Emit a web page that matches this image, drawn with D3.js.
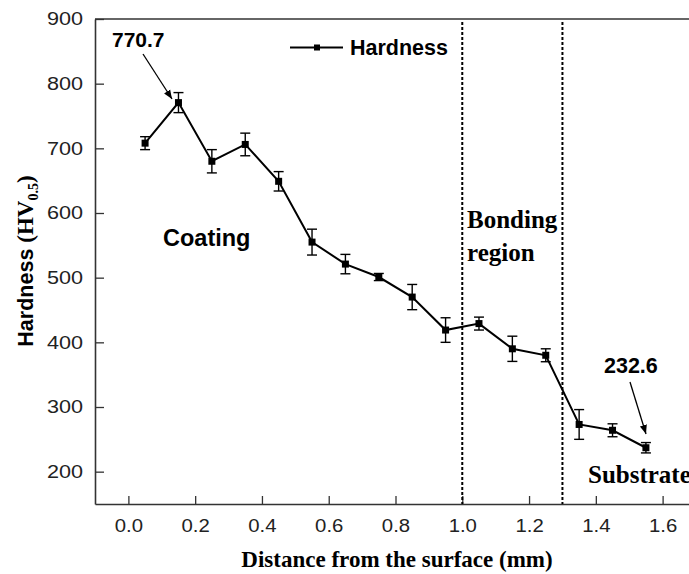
<!DOCTYPE html>
<html>
<head>
<meta charset="utf-8">
<script src="https://cdn.jsdelivr.net/npm/d3@7"></script>
<style>
  body { margin: 0; background: #fff; }
  svg { display: block; }
</style>
</head>
<body>
<div id="chart"></div>
<script>
// data
var depth = [0.05, 0.15, 0.25, 0.35, 0.45, 0.55, 0.65, 0.75, 0.85, 0.95, 1.05, 1.15, 1.25, 1.35, 1.45, 1.55];
var hardness = [708, 770.7, 680, 706, 649, 555, 521, 501, 470, 419, 429, 390, 380, 273, 264, 237];
var errors = [10, 15.5, 18, 17.5, 15, 20, 15, 5.5, 19.5, 19, 10, 19.5, 10, 23, 10, 8];
var xTicks = [0, 0.2, 0.4, 0.6, 0.8, 1.0, 1.2, 1.4, 1.6];
var yTicks = [200, 300, 400, 500, 600, 700, 800, 900];
var regionBounds = [1.0, 1.3];

var W = 689, H = 574;
var plotLeft = 95, plotTop = 19, plotBottom = 504;

var svg = d3.select("#chart").append("svg")
  .attr("width", W)
  .attr("height", H);

var x = d3.scaleLinear().domain([-0.1, 1.7]).range([plotLeft, 696]);
var y = d3.scaleLinear().domain([150, 900]).range([plotBottom, plotTop]);

var sans = "'Liberation Sans', Arial, sans-serif";
var serif = "'Liberation Serif', 'Times New Roman', serif";
var axisColor = "#333";

// arrow head
svg.append("defs").append("marker")
  .attr("id", "arrow")
  .attr("viewBox", "0 0 10 10")
  .attr("refX", 10).attr("refY", 5)
  .attr("markerWidth", 9).attr("markerHeight", 9)
  .attr("markerUnits", "userSpaceOnUse")
  .attr("orient", "auto")
  .append("path")
  .attr("d", "M0,1 L10,5 L0,9 Z")
  .attr("fill", "#000");

// stretch tick labels a bit, the source font is wider than Arial
function widen(sel, k) {
  sel.selectAll("text").each(function() {
    var w = this.getComputedTextLength();
    d3.select(this).attr("textLength", w * k).attr("lengthAdjust", "spacingAndGlyphs");
  });
}

// y axis
var gy = svg.append("g")
  .attr("transform", "translate(" + plotLeft + ",0)")
  .call(d3.axisLeft(y).tickValues(yTicks).tickSizeInner(-9).tickSizeOuter(0).tickPadding(12));
gy.select(".domain").attr("stroke", axisColor).attr("stroke-width", 1.6);
gy.selectAll(".tick line").attr("stroke", axisColor).attr("stroke-width", 1.3);
gy.selectAll("text").attr("font-family", sans).attr("font-size", 18).attr("fill", "#222");
widen(gy, 1.2);

// x axis
var gx = svg.append("g")
  .attr("transform", "translate(0," + plotBottom + ")")
  .call(d3.axisBottom(x).tickValues(xTicks).tickFormat(d3.format(".1f")).tickSizeInner(-8).tickSizeOuter(0).tickPadding(15));
gx.select(".domain").attr("stroke", axisColor).attr("stroke-width", 1.6);
gx.selectAll(".tick line").attr("stroke", axisColor).attr("stroke-width", 1.3);
gx.selectAll("text").attr("font-family", sans).attr("font-size", 18).attr("fill", "#222");
widen(gx, 1.13);

// top frame line
svg.append("line")
  .attr("x1", plotLeft).attr("x2", x(1.7))
  .attr("y1", plotTop).attr("y2", plotTop)
  .attr("stroke", axisColor).attr("stroke-width", 1.6);

// region boundaries
svg.selectAll("line.bound")
  .data(regionBounds)
  .enter().append("line")
  .attr("class", "bound")
  .attr("x1", d => x(d)).attr("x2", d => x(d))
  .attr("y1", plotTop + 3).attr("y2", plotBottom)
  .attr("stroke", "#000")
  .attr("stroke-width", 2)
  .attr("stroke-dasharray", "3,2");

// error bars
var pts = depth.map((d, i) => ({x: d, y: hardness[i], e: errors[i]}));

var eb = svg.append("g").selectAll("g")
  .data(pts)
  .enter().append("g")
  .attr("stroke", "#000")
  .attr("stroke-width", 1.4);
eb.append("line")
  .attr("x1", d => x(d.x)).attr("x2", d => x(d.x))
  .attr("y1", d => y(d.y - d.e)).attr("y2", d => y(d.y + d.e));
eb.append("line")
  .attr("x1", d => x(d.x) - 5).attr("x2", d => x(d.x) + 5)
  .attr("y1", d => y(d.y + d.e)).attr("y2", d => y(d.y + d.e));
eb.append("line")
  .attr("x1", d => x(d.x) - 5).attr("x2", d => x(d.x) + 5)
  .attr("y1", d => y(d.y - d.e)).attr("y2", d => y(d.y - d.e));

// line
svg.append("path")
  .datum(pts)
  .attr("fill", "none")
  .attr("stroke", "#000")
  .attr("stroke-width", 2)
  .attr("d", d3.line().x(d => x(d.x)).y(d => y(d.y)));

// markers
svg.append("g").selectAll("rect")
  .data(pts)
  .enter().append("rect")
  .attr("x", d => x(d.x) - 3.5)
  .attr("y", d => y(d.y) - 3.5)
  .attr("width", 7).attr("height", 7)
  .attr("fill", "#000");

// legend
svg.append("line")
  .attr("x1", 290).attr("x2", 343)
  .attr("y1", 47.5).attr("y2", 47.5)
  .attr("stroke", "#000").attr("stroke-width", 2);
svg.append("rect")
  .attr("x", 314).attr("y", 44.5)
  .attr("width", 6).attr("height", 6)
  .attr("fill", "#000");
svg.append("text")
  .attr("x", 350).attr("y", 55)
  .attr("font-family", sans).attr("font-weight", "bold").attr("font-size", 21.5)
  .text("Hardness");

// annotations
svg.append("text")
  .attr("x", 112).attr("y", 47)
  .attr("font-family", sans).attr("font-weight", "bold").attr("font-size", 21)
  .text("770.7");
svg.append("line")
  .attr("x1", 143).attr("y1", 54).attr("x2", 172).attr("y2", 99)
  .attr("stroke", "#000").attr("stroke-width", 1.3)
  .attr("marker-end", "url(#arrow)");

svg.append("text")
  .attr("x", 604).attr("y", 373)
  .attr("font-family", sans).attr("font-weight", "bold").attr("font-size", 21.5)
  .text("232.6");
svg.append("line")
  .attr("x1", 630).attr("y1", 382).attr("x2", 646).attr("y2", 434)
  .attr("stroke", "#000").attr("stroke-width", 1.3)
  .attr("marker-end", "url(#arrow)");

svg.append("text")
  .attr("x", 163).attr("y", 246)
  .attr("font-family", sans).attr("font-weight", "bold").attr("font-size", 23.5)
  .text("Coating");

svg.append("text")
  .attr("x", 467).attr("y", 228)
  .attr("font-family", serif).attr("font-weight", "bold").attr("font-size", 25)
  .text("Bonding");
svg.append("text")
  .attr("x", 467).attr("y", 261)
  .attr("font-family", serif).attr("font-weight", "bold").attr("font-size", 25)
  .text("region");

svg.append("text")
  .attr("x", 588).attr("y", 483)
  .attr("font-family", serif).attr("font-weight", "bold").attr("font-size", 25)
  .text("Substrate");

// axis titles
svg.append("text")
  .attr("x", 397).attr("y", 567)
  .attr("text-anchor", "middle")
  .attr("font-family", serif).attr("font-weight", "bold").attr("font-size", 23)
  .text("Distance from the surface (mm)");

var yt = svg.append("text")
  .attr("transform", "translate(33,261) rotate(-90)")
  .attr("text-anchor", "middle")
  .attr("font-weight", "bold");
yt.append("tspan").attr("font-family", sans).attr("font-size", 21.5).text("Hardness ");
yt.append("tspan").attr("font-family", serif).attr("font-size", 23).text("(HV");
yt.append("tspan").attr("font-family", serif).attr("font-size", 14).attr("dy", 5).text("0.5");
yt.append("tspan").attr("font-family", serif).attr("font-size", 23).attr("dy", -5).text(")");
</script>
</body>
</html>
